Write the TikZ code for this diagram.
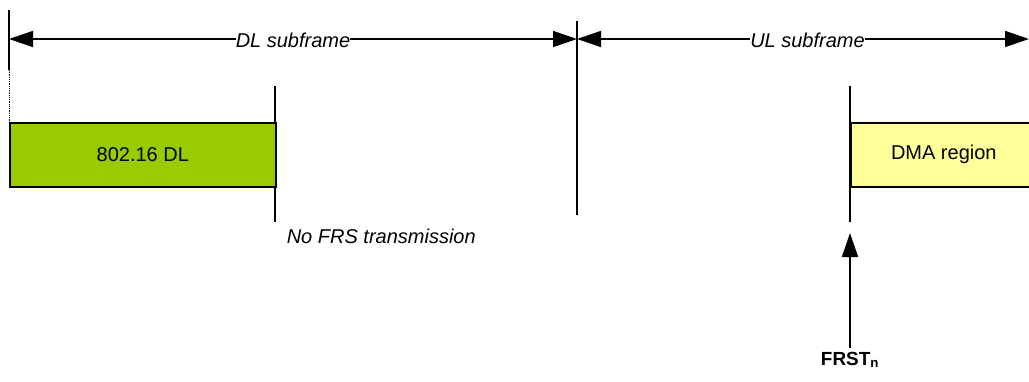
\documentclass[tikz,border=0pt]{standalone}
\usepackage{fontspec}
\setmainfont{Liberation Sans}
\usetikzlibrary{arrows.meta,positioning}
\definecolor{dlgreen}{HTML}{99CC00}
\definecolor{dmayellow}{HTML}{FFFF99}

\begin{document}
\begin{tikzpicture}[x=1pt,y=-1pt,line width=1.6pt,font=\fontsize{20}{24}\selectfont,
  >={Triangle[length=24pt,width=16pt]},
  region/.style={draw,minimum height=64pt,anchor=north west,inner sep=0pt},
  span/.style={fill=white,inner sep=0pt,font=\fontsize{20}{24}\selectfont\itshape}]
  \useasboundingbox (0,0) rectangle (1029,381);
  \clip (0,0) rectangle (1029,381);
  % frame edges
  \coordinate (t0) at (9,39); \coordinate (t1) at (577,39); \coordinate (t2) at (1029,39);
  \draw (9,10) -- (9,70);
  \draw[line width=0.8pt,densely dotted] (9,70) -- (9,122);
  \foreach \x/\a/\b in {577/21/215, 275/86/222, 850/86/222} { \draw (\x,\a) -- (\x,\b); }
  \draw[<->] (t0) -- node[span,yshift=-1pt] {DL subframe} (t1);
  \draw[<->] (t1) -- node[span,pos=0.51,yshift=-1pt] {UL subframe} (t2);
  % regions
  \node[region,fill=dlgreen,minimum width=266pt] (dl) at (9,122) {};
  \node at (dl.center) {802.16 DL};
  \node[region,fill=dmayellow,minimum width=186pt] (dma) at (850,122) {};
  \node at (dma.center) {DMA region};
  \node[anchor=base west,inner sep=0pt,font=\fontsize{20}{24}\selectfont\itshape] (nofrs) at (286,243) {No FRS transmission};
  % start of FRS
  \coordinate (frsttip) at (850,233);
  \node[anchor=base,font=\fontsize{19}{24}\selectfont\bfseries] (frst) at (850,365) {FRST\textsubscript{n}};
  \draw[->] (frst.north) -- (frsttip);
\end{tikzpicture}
\end{document}
